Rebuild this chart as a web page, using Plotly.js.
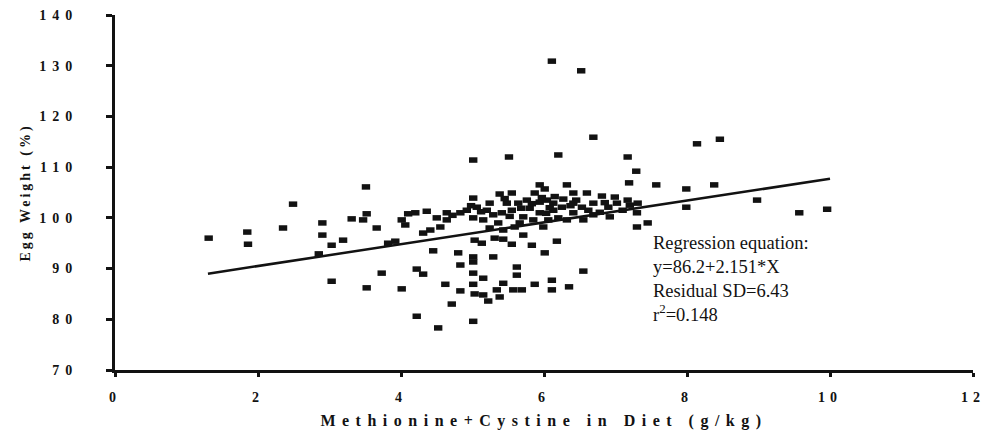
<!DOCTYPE html>
<html>
<head>
<meta charset="utf-8">
<script src="https://cdn.plot.ly/plotly-3.0.1.min.js"></script>
<style>
  html, body { margin: 0; padding: 0; background: #fff; }
  #chart { width: 987px; height: 443px; }
  .xtick text { letter-spacing: 5px; }
  .ytick text { letter-spacing: 6px; }
  .xtitle { letter-spacing: 6.5px; }
  .ytitle { letter-spacing: 3px; }
</style>
</head>
<body>
<div id="chart"></div>
<script>
// Methionine+cystine content of the diet (g/kg)
const methCys = [
  1.31, 1.85, 1.86, 2.35, 2.49, 2.90, 2.90, 2.85, 3.03, 3.03,
  3.19, 3.31, 3.47, 3.52, 3.51, 3.66, 3.82, 3.92, 4.01, 4.06,
  4.10, 4.20, 4.36, 4.31, 4.41, 4.45, 4.50, 4.55, 4.64, 4.64,
  4.83, 4.92, 5.06, 5.01, 5.15, 5.24, 5.29, 5.36, 5.48, 5.55,
  5.64, 5.71, 5.80, 5.85, 5.94, 5.94, 5.99, 5.59, 5.43, 5.03,
  5.31, 5.71, 5.01, 5.38, 5.55, 5.87, 5.94, 6.04, 6.32, 6.41,
  6.60, 6.81, 6.99, 7.17, 6.01, 6.13, 6.25, 6.41, 6.53, 6.69,
  6.78, 6.90, 7.02, 7.20, 7.31, 7.30, 6.03, 6.13, 6.41, 6.55,
  6.69, 7.30, 7.45, 6.18, 6.11, 6.52, 6.69, 5.01, 5.51, 6.20,
  7.17, 7.29, 7.19, 7.57, 7.99, 7.99, 8.14, 8.46, 8.38, 8.98,
  9.57, 9.96, 5.13, 5.43, 5.55, 5.83, 6.01, 5.29, 4.80, 4.83,
  5.01, 5.01, 3.73, 4.22, 4.31, 3.52, 4.01, 4.62, 4.83, 5.01,
  5.15, 5.01, 5.03, 5.15, 5.22, 4.71, 4.22, 4.52, 5.01, 5.34,
  5.38, 5.43, 5.57, 5.69, 5.62, 5.62, 5.87, 6.11, 6.11, 6.35,
  6.55, 5.20, 5.41, 5.76, 5.66, 5.24, 6.20, 6.32, 6.92, 7.10,
  6.06, 5.97, 6.08, 6.15, 6.27, 6.45, 5.68, 5.52, 5.12, 4.72,
  4.98, 5.83, 6.62, 6.85, 5.45, 6.37
];

// Egg weight (%) for each diet
const eggWeight = [
  96.0, 97.2, 94.8, 98.0, 102.7, 99.0, 96.6, 92.9, 94.6, 87.5,
  95.6, 99.8, 99.6, 100.8, 106.1, 98.0, 95.0, 95.4, 99.6, 98.6,
  100.8, 101.0, 101.3, 97.0, 97.6, 93.5, 100.0, 98.2, 99.6, 101.0,
  101.0, 101.5, 102.1, 100.0, 99.6, 102.9, 100.6, 99.0, 102.9, 101.5,
  102.9, 100.2, 101.9, 99.6, 103.1, 101.0, 98.2, 98.2, 97.6, 95.6,
  96.0, 96.6, 103.9, 104.7, 104.9, 104.9, 106.5, 103.5, 106.5, 104.9,
  104.9, 104.3, 104.1, 103.5, 105.7, 102.9, 102.1, 102.9, 102.1, 102.9,
  101.1, 102.1, 102.9, 102.5, 102.9, 101.0, 100.9, 101.5, 101.0, 99.6,
  100.6, 98.2, 99.0, 95.4, 130.9, 129.0, 115.9, 111.4, 112.0, 112.4,
  112.0, 109.2, 106.9, 106.5, 105.7, 102.1, 114.6, 115.5, 106.5, 103.5,
  101.0, 101.7, 95.0, 95.8, 94.8, 94.6, 93.1, 92.3, 93.1, 90.7,
  92.3, 91.3, 89.1, 89.9, 88.9, 86.2, 86.0, 86.9, 85.6, 89.1,
  88.1, 86.9, 85.0, 84.8, 83.6, 83.0, 80.6, 78.3, 79.6, 85.8,
  84.4, 87.1, 85.8, 85.8, 90.3, 88.7, 86.9, 87.7, 85.8, 86.4,
  89.5, 101.5, 101.0, 103.5, 99.0, 98.0, 100.0, 99.6, 100.2, 101.5,
  99.6, 104.0, 102.0, 104.2, 103.7, 103.5, 101.9, 100.3, 101.2, 100.5,
  102.4, 102.8, 101.5, 103.0, 103.8, 102.4
];

// Fitted regression: y = intercept + slope * x
const intercept = 86.2;
const slope = 2.151;
const residualSD = 6.43;
const rSquared = 0.148;
const fitRange = [1.3, 10.0];

const xTickVals = [0, 2, 4, 6, 8, 10, 12];
const yTickVals = [70, 80, 90, 100, 110, 120, 130, 140];

const ink = '#121212';
const serif = '"Liberation Serif", "Times New Roman", serif';

const fitY = fitRange.map(x => intercept + slope * x);

const traces = [
  {
    type: 'scatter',
    mode: 'markers',
    x: methCys,
    y: eggWeight,
    marker: {
      symbol: 'line-ew',
      size: 6,
      color: ink,
      line: { color: ink, width: 5.5 }
    },
    hoverinfo: 'x+y',
    showlegend: false
  },
  {
    type: 'scatter',
    mode: 'lines',
    x: fitRange,
    y: fitY,
    line: { color: ink, width: 2.5 },
    hoverinfo: 'skip',
    showlegend: false
  }
];

const tickFont = { family: serif, size: 14, color: ink, weight: 'bold' };

const layout = {
  width: 987,
  height: 443,
  paper_bgcolor: '#fff',
  plot_bgcolor: '#fff',
  margin: { l: 115, r: 14, t: 15, b: 73 },
  xaxis: {
    range: [0, 12],
    tickvals: xTickVals,
    ticktext: xTickVals.map(String),
    showgrid: false,
    zeroline: false,
    showline: true,
    linewidth: 3,
    linecolor: ink,
    ticks: 'outside',
    ticklen: 4,
    tickwidth: 3,
    tickcolor: ink,
    ticklabelstandoff: 8,
    tickfont: tickFont,
    title: {
      text: 'Methionine+Cystine in Diet (g/kg)',
      font: { family: serif, size: 16, color: ink, weight: 'bold' },
      standoff: 12
    }
  },
  yaxis: {
    range: [70, 140],
    tickvals: yTickVals,
    ticktext: yTickVals.map(String),
    showgrid: false,
    zeroline: false,
    showline: true,
    linewidth: 3,
    linecolor: ink,
    ticks: 'outside',
    ticklen: 6,
    tickwidth: 3,
    tickcolor: ink,
    ticklabelstandoff: 25,
    tickfont: tickFont,
    title: {
      text: 'Egg Weight (%)',
      font: { family: serif, size: 14, color: ink, weight: 'bold' },
      standoff: 6
    }
  },
  annotations: [
    {
      xref: 'x',
      yref: 'y',
      x: 7.5,
      y: 97.5,
      xanchor: 'left',
      yanchor: 'top',
      align: 'left',
      showarrow: false,
      text: 'Regression equation:<br>y=' + intercept + '+' + slope + '*X<br>Residual SD=' +
            residualSD + '<br>r<sup>2</sup>=' + rSquared,
      font: { family: serif, size: 18.5, color: ink }
    }
  ]
};

Plotly.newPlot('chart', traces, layout, { displayModeBar: false, staticPlot: true });
</script>
</body>
</html>
